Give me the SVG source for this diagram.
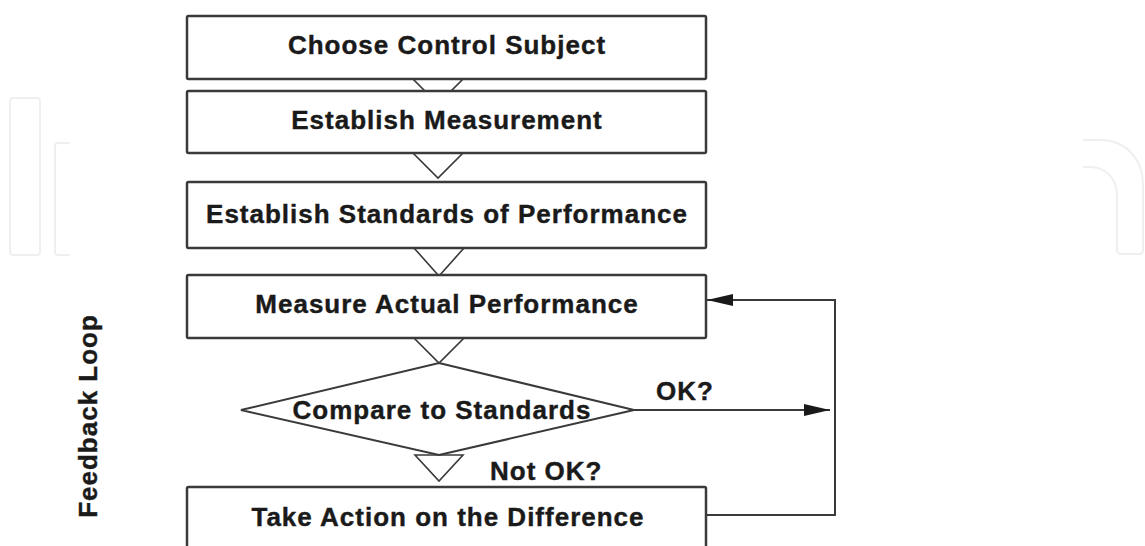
<svg xmlns="http://www.w3.org/2000/svg" width="1145" height="546" viewBox="0 0 1145 546">
  <style>
    .box { fill: #ffffff; stroke: #3a3a3a; stroke-width: 2.5; }
    .diamond { fill: #ffffff; stroke: #3a3a3a; stroke-width: 2; }
    .tri { fill: #ffffff; stroke: #3a3a3a; stroke-width: 1.6; stroke-linejoin: miter; }
    .wire { fill: none; stroke: #3a3a3a; stroke-width: 2; }
    .label { font-family: "Liberation Sans", Arial, sans-serif; font-weight: bold; font-size: 26px; letter-spacing: 1px; fill: #1a1a1a; stroke: #1a1a1a; stroke-width: 0.4; }
    .mid { text-anchor: middle; }
    .mark { fill: none; stroke: #eef0f0; stroke-width: 2; }
  </style>
  <defs>
    <marker id="head" viewBox="0 0 26 12" refX="26" refY="6" markerWidth="26" markerHeight="12" markerUnits="userSpaceOnUse" orient="auto">
      <path d="M0,0 L26,6 L0,12 Z" fill="#1a1a1a"/>
    </marker>
  </defs>

  <rect width="1145" height="546" fill="#ffffff"/>

  <!-- faint background logo fragments -->
  <g id="backdrop">
    <rect class="mark" x="10" y="98" width="30" height="157" rx="3"/>
    <path class="mark" d="M70,143 L58,143 Q55,143 55,146 L55,252 Q55,255 58,255 L70,255"/>
    <path class="mark" d="M1083,140 L1100,140 C1125,140 1143,158 1143,185 L1143,250 Q1143,254 1139,254 L1121,254 Q1117,254 1117,250 L1117,195 C1117,178 1105,167 1090,167 L1083,167"/>
  </g>

  <!-- connectors: open step triangles, decision outlet, feedback loop -->
  <g id="connectors">
    <polygon class="tri" points="413,79 463,79 438,104"/>
    <polygon class="tri" points="413,153 463,153 438,178"/>
    <polygon class="tri" points="414,248 464,248 439,276"/>
    <polygon class="tri" points="414,338 464,338 439,363"/>
    <polygon class="tri" points="415,455 463,455 439,481"/>
    <line class="wire" x1="634" y1="410" x2="830" y2="410" marker-end="url(#head)"/>
    <polyline class="wire" points="706,515 835,515 835,300 707,300" marker-end="url(#head)"/>
  </g>

  <g id="choose-subject">
    <rect class="box" x="187" y="16" width="519" height="63" rx="1.5"/>
    <text class="label mid" x="447" y="54">Choose Control Subject</text>
  </g>

  <g id="establish-measurement">
    <rect class="box" x="187" y="91" width="519" height="62" rx="1.5"/>
    <text class="label mid" x="447" y="129">Establish Measurement</text>
  </g>

  <g id="establish-standards">
    <rect class="box" x="187" y="182" width="519" height="66" rx="1.5"/>
    <text class="label mid" x="447" y="223">Establish Standards of Performance</text>
  </g>

  <g id="measure-performance">
    <rect class="box" x="187" y="275" width="519" height="63" rx="1.5"/>
    <text class="label mid" x="447" y="313">Measure Actual Performance</text>
  </g>

  <g id="compare-standards">
    <polygon class="diamond" points="439,363 634,410 439,455 241,410"/>
    <text class="label mid" x="442" y="419">Compare to Standards</text>
  </g>

  <g id="take-action">
    <rect class="box" x="187" y="487" width="519" height="90" rx="1.5"/>
    <text class="label mid" x="448" y="526">Take Action on the Difference</text>
  </g>

  <g id="branch-labels">
    <text class="label" x="656" y="400">OK?</text>
    <text class="label" x="490" y="480">Not OK?</text>
  </g>

  <g id="loop-label">
    <text class="label mid" transform="translate(97,416) rotate(-90)">Feedback Loop</text>
  </g>
</svg>
